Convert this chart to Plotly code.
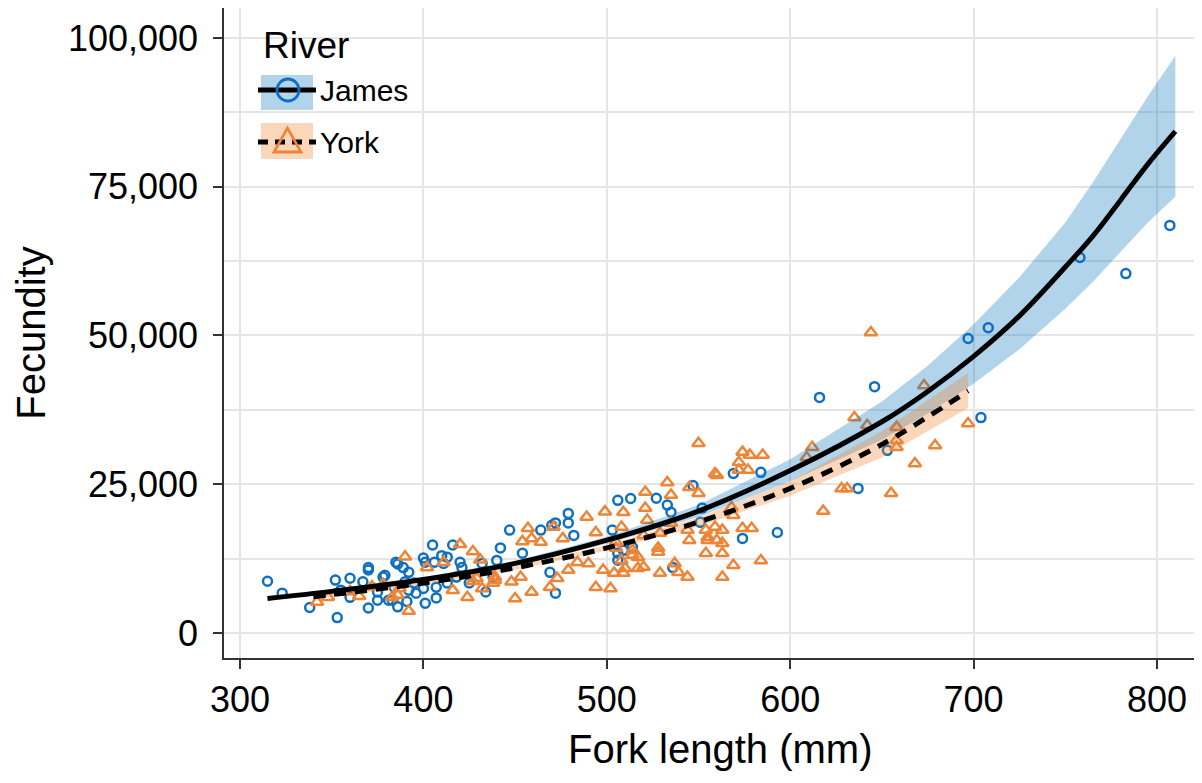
import plotly.graph_objects as go

# ---------------- data ----------------
james_len = [315, 323, 338, 352, 353, 355, 360, 360, 367, 370, 370, 370, 375, 375, 378, 379,
             381, 383, 384, 385, 386, 386, 389, 390, 391, 392, 392, 395, 396, 400, 400, 401,
             401, 405, 406, 407, 407, 410, 411, 413, 413, 416, 418, 420, 421, 425, 432, 434,
             438, 440, 442, 447, 454, 464, 469, 470, 472, 472, 479, 479, 482, 503, 506, 506,
             506, 509, 513, 514, 527, 533, 535, 536, 547, 551, 552, 569, 574, 584, 593, 616,
             637, 646, 653, 697, 704, 708, 758, 783, 807]
james_fec = [8700, 6700, 4300, 8900, 2600, 7200, 9200, 6000, 8600, 11000, 10600, 4200, 5500, 6900, 9400, 9700,
             5500, 5500, 7700, 11900, 4400, 11600, 11000, 8600, 5300, 10200, 7200, 8400, 6700, 12600, 7500, 5000,
             11900, 14800, 11900, 5900, 7700, 13000, 11700, 12750, 8400, 14800, 9400, 11900, 11000, 8400, 11700, 6900,
             9400, 12200, 14300, 17300, 13400, 17300, 10200, 18100, 18500, 6700, 20100, 18500, 16400, 17300, 22300, 12250,
             13400, 13900, 22600, 14400, 22650, 21500, 20300, 11000, 24800, 18600, 21000, 26800, 15900, 27000, 16900, 39600,
             24300, 41400, 30700, 49500, 36200, 51300, 63100, 60400, 68500]

york_len = [342, 348, 360, 365, 372, 378, 383, 386, 387, 390, 392, 402, 411, 416, 420, 424,
            427, 427, 429, 431, 432, 438, 439, 439, 448, 450, 453, 454, 457, 459, 459, 464,
            469, 471, 473, 476, 479, 484, 489, 490, 494, 494, 498, 499, 502, 504, 505, 505,
            508, 508, 509, 509, 510, 514, 514, 517, 517, 520, 520, 521, 521, 522, 528, 528,
            529, 529, 533, 535, 535, 537, 539, 544, 544, 545, 545, 550, 550, 554, 554, 555,
            555, 559, 559, 560, 560, 563, 563, 563, 563, 568, 569, 569, 572, 572, 574, 574,
            577, 578, 579, 584, 585, 609, 612, 618, 628, 631, 635, 642, 644, 655, 658, 658,
            658, 668, 673, 679, 697]
york_fec = [5200, 6000, 7000, 6200, 7800, 8200, 6000, 6400, 7500, 12800, 3700, 11000, 11900, 7200, 14900, 6000,
            13700, 8700, 9200, 12300, 7500, 8400, 9400, 8900, 8600, 5800, 9400, 15400, 17600, 15900, 6900, 15300,
            7700, 17800, 9200, 15900, 10600, 11900, 19500, 11700, 16900, 7700, 10600, 20400, 7500, 10100, 15300, 14300,
            12200, 17800, 20300, 10100, 10900, 13100, 13900, 10900, 12750, 16400, 11100, 23700, 21000, 19000, 14300, 13600,
            16800, 10100, 25300, 23200, 18500, 11700, 10200, 17300, 9400, 24500, 15600, 23500, 31900, 17300, 13400, 16100,
            15600, 26800, 17800, 26500, 15600, 17300, 15100, 13400, 9400, 21100, 19800, 11400, 28700, 27400, 30400, 17600,
            27400, 29900, 17600, 12200, 29900, 29500, 31200, 20500, 24300, 24300, 36200, 34900, 50500, 23500, 34600, 32400,
            31200, 28500, 41600, 31500, 35200]

# fitted curves and confidence ribbons
james_fit_len = [315, 350, 400, 450, 500, 550, 600, 650, 675, 700, 725, 750, 765, 780, 795, 810]
james_fit = [5800, 7000, 9000, 11700, 15600, 20500, 27300, 35500, 40600, 46500, 53300, 61500, 66700, 72700, 78800, 84300]
james_upper = [6200, 7350, 9360, 12100, 16200, 21500, 29200, 38900, 44900, 51900, 59800, 69000, 75700, 82900, 90200, 97000]
james_lower = [5450, 6650, 8640, 11300, 15000, 19500, 25500, 32500, 36900, 41900, 47700, 54500, 59000, 64000, 69000, 73300]

york_fit_len = [340, 350, 400, 450, 500, 550, 600, 650, 697]
york_fit = [6100, 6450, 8400, 10950, 14300, 18650, 24300, 31700, 40700]
york_upper = [6470, 6800, 8740, 11280, 14730, 19400, 25520, 33900, 43700]
york_lower = [5740, 6100, 8070, 10620, 13870, 17900, 23090, 29500, 37800]

x_ticks = [300, 400, 500, 600, 700, 800]
y_ticks = [0, 25000, 50000, 75000, 100000]
y_tick_text = ["0", "25,000", "50,000", "75,000", "100,000"]
series_names = ["James", "York"]
legend_title = "River"
x_title = "Fork length (mm)"
y_title = "Fecundity"

# ---------------- style ----------------
BLUE = "#0F70C0"
ORANGE = "#EE8435"
BLUE_FILL = "rgba(0,114,189,0.30)"
ORANGE_FILL = "rgba(240,130,50,0.33)"
FONT = "Liberation Sans, Arial, sans-serif"

# the page body has an 8px margin on every side -> keep the whole page at 1202x783
OFF = 8
PAGE_W, PAGE_H = 1202, 783
W, H = PAGE_W - 2 * OFF, PAGE_H - 2 * OFF
PLOT_L, PLOT_R, PLOT_T, PLOT_B = 224, PAGE_W - OFF, 8, 658      # plot box in page pixels
L = PLOT_L - OFF
T = PLOT_T - OFF
R = W - (PLOT_R - OFF)
B = H - (PLOT_B - OFF)
PW, PH = W - L - R, H - T - B

# axis scale: 300 mm at page x=240, 800 mm at page x=1157
MM_PER_PX = 500.0 / (1157 - 240)
X_MIN = 300 - (240 - PLOT_L) * MM_PER_PX
X_MAX = X_MIN + PW * MM_PER_PX

fig = go.Figure()

fig.add_trace(go.Scatter(x=james_len, y=james_fec, mode="markers", showlegend=False,
                         marker=dict(symbol="circle-open", size=9, color=BLUE,
                                     line=dict(width=2.5, color=BLUE))))
fig.add_trace(go.Scatter(x=york_len, y=york_fec, mode="markers", showlegend=False,
                         marker=dict(symbol="triangle-up-open", size=11, color=ORANGE,
                                     line=dict(width=2.5, color=ORANGE))))

fig.add_trace(go.Scatter(x=james_fit_len + james_fit_len[::-1], y=james_upper + james_lower[::-1],
                         fill="toself", fillcolor=BLUE_FILL, mode="lines",
                         line=dict(width=0), hoverinfo="skip", showlegend=False))
fig.add_trace(go.Scatter(x=york_fit_len + york_fit_len[::-1], y=york_upper + york_lower[::-1],
                         fill="toself", fillcolor=ORANGE_FILL, mode="lines",
                         line=dict(width=0), hoverinfo="skip", showlegend=False))

fig.add_trace(go.Scatter(x=james_fit_len, y=james_fit, mode="lines", showlegend=False,
                         line=dict(color="black", width=5, shape="spline")))
fig.add_trace(go.Scatter(x=york_fit_len, y=york_fit, mode="lines", showlegend=False,
                         line=dict(color="black", width=5, dash="12px,9px", shape="spline")))

# ---------------- manual legend (page pixel -> paper helpers) ----------------
def px(xp):
    return (xp - PLOT_L) / PW

def py(yp):
    return (PLOT_B - yp) / PH

shapes = []
shapes.append(dict(type="rect", xref="paper", yref="paper", x0=px(261), x1=px(313), y0=py(110), y1=py(75),
                   fillcolor=BLUE_FILL, line=dict(width=0), layer="above"))
shapes.append(dict(type="rect", xref="paper", yref="paper", x0=px(261), x1=px(313), y0=py(159), y1=py(123),
                   fillcolor=ORANGE_FILL, line=dict(width=0), layer="above"))
shapes.append(dict(type="line", xref="paper", yref="paper", x0=px(258), x1=px(316), y0=py(90), y1=py(90),
                   line=dict(color="black", width=5), layer="above"))
shapes.append(dict(type="line", xref="paper", yref="paper", x0=px(258), x1=px(316), y0=py(142), y1=py(142),
                   line=dict(color="black", width=5, dash="10px,7px"), layer="above"))
shapes.append(dict(type="circle", xref="paper", yref="paper", x0=px(277), x1=px(299), y0=py(101), y1=py(79),
                   line=dict(color=BLUE, width=2.8), fillcolor="rgba(0,0,0,0)", layer="above"))
tri = "M {a},{b} L {c},{b} L {d},{e} Z".format(a=px(274), b=py(152), c=px(301), d=px(287.5), e=py(128))
shapes.append(dict(type="path", xref="paper", yref="paper", path=tri,
                   line=dict(color=ORANGE, width=2.8), layer="above"))

annotations = [
    dict(text=legend_title, x=px(261), y=py(45), xref="paper", yref="paper", xanchor="left", yanchor="middle",
         showarrow=False, font=dict(size=37, color="black", family=FONT)),
    dict(text=series_names[0], x=px(318), y=py(90), xref="paper", yref="paper", xanchor="left", yanchor="middle",
         showarrow=False, font=dict(size=30, color="black", family=FONT)),
    dict(text=series_names[1], x=px(318), y=py(142), xref="paper", yref="paper", xanchor="left", yanchor="middle",
         showarrow=False, font=dict(size=30, color="black", family=FONT)),
    dict(text=x_title, x=px(720), y=py(749), xref="paper", yref="paper", xanchor="center", yanchor="middle",
         showarrow=False, font=dict(size=40, color="black", family=FONT)),
]

fig.update_layout(
    width=W, height=H,
    margin=dict(l=L, r=R, t=T, b=B, autoexpand=False),
    paper_bgcolor="white", plot_bgcolor="white",
    font=dict(family=FONT, color="black"),
    showlegend=False,
    shapes=shapes,
    annotations=annotations,
    xaxis=dict(range=[X_MIN, X_MAX], tickvals=x_ticks, ticks="outside", ticklen=9, tickwidth=1.5,
               tickcolor="#333333", showline=True, linecolor="#333333", linewidth=1.5, mirror=True,
               showgrid=True, gridcolor="#E5E5E5", gridwidth=1.5, zeroline=False,
               tickfont=dict(size=36, color="black")),
    yaxis=dict(range=[-4195, 105030], tickvals=y_ticks, ticktext=y_tick_text, ticks="outside", ticklen=9,
               tickwidth=1.5, tickcolor="#333333", showline=True, linecolor="#333333", linewidth=1.5,
               mirror=False, showgrid=True, gridcolor="#E5E5E5", gridwidth=1.5, zeroline=False,
               minor=dict(dtick=12500, tick0=0, showgrid=True, gridcolor="#E5E5E5", gridwidth=1.5, ticks=""),
               tickfont=dict(size=36, color="black"), ticklabelstandoff=8,
               title=dict(text=y_title, font=dict(size=40, color="black"), standoff=10)),
)

fig.write_html("out.html")
